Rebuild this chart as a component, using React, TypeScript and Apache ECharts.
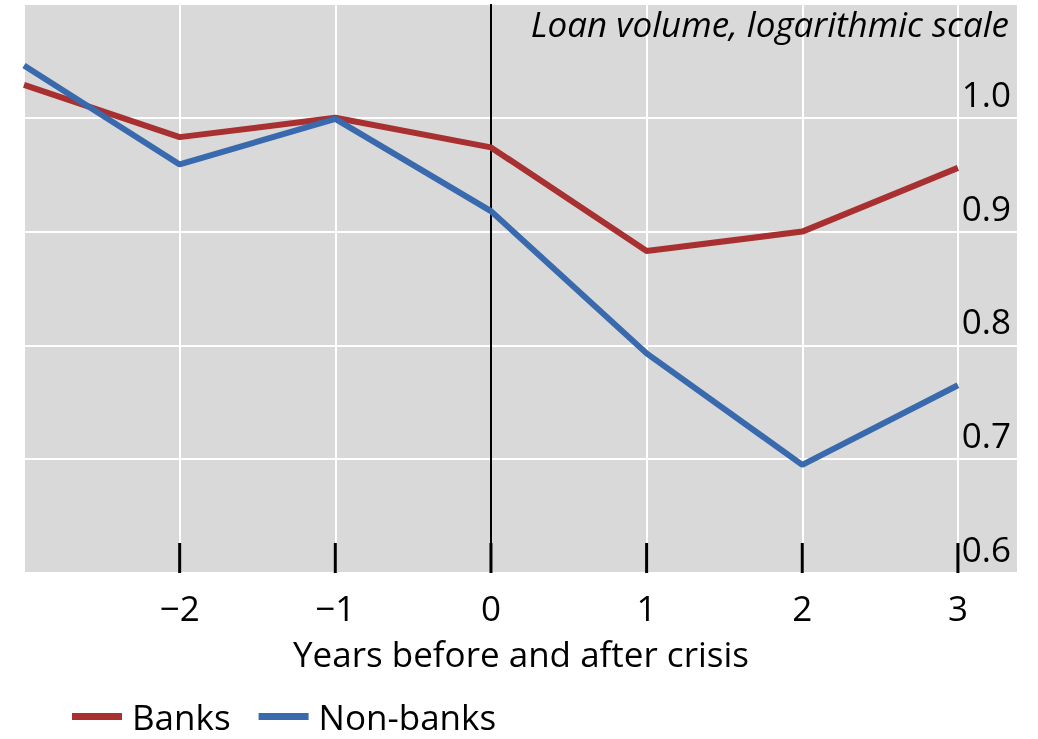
import React, { useEffect, useRef } from "react";
import * as echarts from "echarts";

const years = [-3, -2, -1, 0, 1, 2, 3];
const banks = [1.029, 0.983, 1.0, 0.974, 0.883, 0.9, 0.956];
const nonBanks = [1.046, 0.959, 0.999, 0.918, 0.793, 0.695, 0.765];
const tickYears = [-2, -1, 0, 1, 2, 3];
const yTicks = [0.6, 0.7, 0.8, 0.9, 1.0];

const FONT = "'Open Sans', 'Noto Sans', sans-serif";
const RED = "#a83030";
const BLUE = "#3a6aae";
const FS = 35;

export default function App() {
  const ref = useRef<HTMLDivElement>(null);
  useEffect(() => {
    if (!ref.current) return;
    const chart = echarts.init(ref.current, null, { renderer: "svg" });
    chart.setOption({
      animation: false,
      textStyle: { fontFamily: FONT },
      title: {
        text: "Loan volume, logarithmic scale",
        right: 24,
        top: 1,
        textStyle: { fontFamily: FONT, fontStyle: "italic", fontWeight: "normal", fontSize: FS, color: "#000" },
      },
      legend: {
        left: 67,
        bottom: 0,
        itemWidth: 50,
        itemHeight: 7,
        itemGap: 28,
        icon: "rect",
        textStyle: { fontFamily: FONT, fontSize: FS, lineHeight: 28, color: "#000", padding: [0, 0, 0, 5] },
        data: ["Banks", "Non-banks"],
      },
      grid: {
        left: 24,
        right: 20,
        top: 4,
        bottom: 166,
        show: true,
        backgroundColor: "#d9d9d9",
        borderWidth: 0,
        containLabel: false,
      },
      xAxis: {
        type: "value",
        min: -3,
        max: 3.386,
        interval: 1,
        axisLine: { show: false },
        axisTick: { show: false },
        splitLine: { show: true, lineStyle: { color: "#ffffff", width: 2 } },
        axisLabel: {
          fontFamily: FONT,
          fontSize: FS,
          color: "#000",
          margin: 17,
          formatter: (v: number) => {
            if (!tickYears.includes(v)) return "";
            return v < 0 ? "\u2212" + Math.abs(v) : String(v);
          },
        },
        name: "Years before and after crisis",
        nameLocation: "middle",
        nameGap: 63,
        nameTextStyle: { fontFamily: FONT, fontSize: FS, color: "#000" },
      },
      yAxis: {
        type: "value",
        position: "right",
        min: 0.6,
        max: 1.1,
        interval: 0.1,
        axisLine: { show: false },
        axisTick: { show: false },
        splitLine: { show: true, lineStyle: { color: "#ffffff", width: 2 } },
        axisLabel: {
          inside: true,
          fontFamily: FONT,
          fontSize: FS,
          color: "#000",
          margin: 7,
          verticalAlign: "bottom",
          padding: [0, 0, 7, 0],
          formatter: (v: number) => {
            const r = Math.round(v * 10) / 10;
            return yTicks.some((t) => Math.abs(t - r) < 1e-9) && r < 1.05 ? r.toFixed(1) : "";
          },
        },
      },
      series: [
        {
          name: "Banks",
          type: "line",
          data: years.map((y, i) => [y, banks[i]]),
          showSymbol: false,
          symbol: "none",
          lineStyle: { color: RED, width: 6 },
          itemStyle: { color: RED },
          z: 3,
          markLine: {
            silent: true,
            symbol: "none",
            label: { show: false },
            lineStyle: { color: "#000", width: 2, type: "solid" },
            data: [{ xAxis: 0 }],
            z: 2,
          },
        },
        {
          name: "Non-banks",
          type: "line",
          data: years.map((y, i) => [y, nonBanks[i]]),
          showSymbol: false,
          symbol: "none",
          lineStyle: { color: BLUE, width: 6 },
          itemStyle: { color: BLUE },
          z: 3,
        },
        {
          name: "ticks",
          type: "custom",
          silent: true,
          data: tickYears.map((t) => [t, 0.6]),
          encode: { x: 0, y: 1 },
          renderItem: (params: any, api: any) => {
            const p = api.coord([api.value(0), api.value(1)]);
            return {
              type: "line",
              shape: { x1: p[0], y1: p[1], x2: p[0], y2: p[1] - 30 },
              style: { stroke: "#000", lineWidth: 3 },
            };
          },
          z: 4,
        },
      ],
    });
    return () => chart.dispose();
  }, []);
  return (
    <div
      ref={ref}
      style={{ position: "fixed", left: 0, top: 0, width: 1038, height: 739 }}
    />
  );
}
